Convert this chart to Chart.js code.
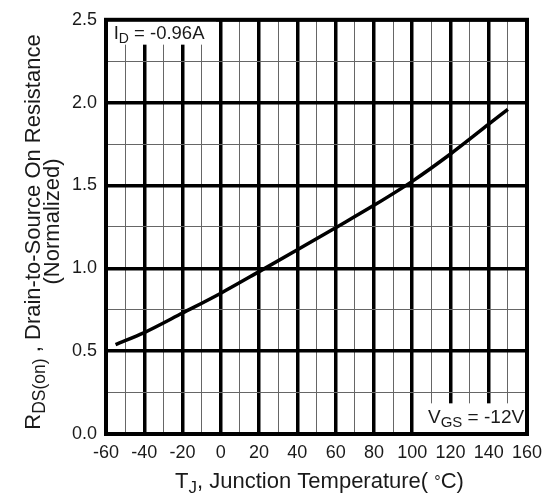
<!DOCTYPE html>
<html>
<head>
<meta charset="utf-8">
<script src="https://cdn.jsdelivr.net/npm/chart.js@4.4.1/dist/chart.umd.min.js"></script>
<style>
html,body{margin:0;padding:0;background:#fff;}
#wrap{width:553px;height:493px;position:relative;}
</style>
</head>
<body>
<div id="wrap"><canvas id="c" width="553" height="493"></canvas></div>
<script>
// ---- data ----
const temperatures = [-55, -40, -20, 0, 20, 40, 60, 80, 100, 120, 140, 150];
const resistance   = [0.54, 0.612, 0.73, 0.85, 0.98, 1.112, 1.245, 1.38, 1.525, 1.69, 1.87, 1.96];
const xTickLabels  = [-60, -40, -20, 0, 20, 40, 60, 80, 100, 120, 140, 160];
const yTickLabels  = ['0.0', '0.5', '1.0', '1.5', '2.0', '2.5'];
const idLabel  = [['I', 'main'], ['D', 'sub'], [' = -0.96A', 'main']];
const vgsLabel = [['V', 'main'], ['GS', 'sub'], [' = -12V', 'main']];

const FONT = '"Liberation Sans", Arial, Helvetica, sans-serif';
const TXT = '#1a1a1a';

function drawRich(ctx, segs, x, y, align, sizes) {
  let total = 0;
  const widths = segs.map(([t, k]) => {
    ctx.font = sizes[k] + 'px ' + FONT;
    const w = ctx.measureText(t).width; total += w; return w;
  });
  let cx = align === 'center' ? x - total / 2 : (align === 'right' ? x - total : x);
  ctx.textAlign = 'left';
  ctx.textBaseline = 'alphabetic';
  ctx.fillStyle = TXT;
  segs.forEach(([t, k], i) => {
    ctx.font = sizes[k] + 'px ' + FONT;
    const dy = k === 'sub' ? sizes.subDy : (k === 'sup' ? sizes.supDy : 0);
    ctx.fillText(t, cx, y + dy);
    cx += widths[i];
  });
}

const decorations = {
  id: 'decorations',
  beforeDatasetsDraw(chart) {
    const ctx = chart.ctx, xs = chart.scales.x, ys = chart.scales.y, a = chart.chartArea;
    ctx.save();
    ctx.fillStyle = '#fff';
    let x0 = xs.getPixelForValue(-60), x1 = xs.getPixelForValue(-2.5);
    let y0 = ys.getPixelForValue(2.5), y1 = ys.getPixelForValue(2.35);
    ctx.fillRect(x0, y0, x1 - x0, y1 - y0);
    x0 = xs.getPixelForValue(101.5); x1 = xs.getPixelForValue(160);
    y0 = ys.getPixelForValue(0.185); y1 = ys.getPixelForValue(0);
    ctx.fillRect(x0, y0, x1 - x0, y1 - y0);
    ctx.strokeStyle = '#000';
    ctx.lineWidth = 4;
    ctx.strokeRect(a.left, a.top, a.right - a.left, a.bottom - a.top);
    drawRich(ctx, idLabel, xs.getPixelForValue(-56), ys.getPixelForValue(2.385), 'left',
      {main: 18.5, sub: 14, subDy: 4, supDy: -6});
    drawRich(ctx, vgsLabel, xs.getPixelForValue(158.5), ys.getPixelForValue(0.065), 'right',
      {main: 19, sub: 15, subDy: 4, supDy: -6});
    ctx.restore();
  },
  afterDraw(chart) {
    const ctx = chart.ctx, a = chart.chartArea;
    ctx.save();
    drawRich(ctx, [['T', 'main'], ['J', 'sub'], [', Junction Temperature( ', 'main'], ['°', 'sup'], ['C)', 'main']],
      (a.left + a.right) / 2 + 3, 488, 'center', {main: 22, sub: 17, subDy: 5, sup: 16, supDy: -1});
    ctx.translate(40, 232);
    ctx.rotate(-Math.PI / 2);
    drawRich(ctx, [['R', 'main'], ['DS(on)', 'sub'], [' , Drain-to-Source On Resistance', 'main']],
      0, 0, 'center', {main: 22, sub: 17.5, subDy: 5, supDy: -6});
    ctx.restore();
    ctx.save();
    ctx.translate(59, 221.5);
    ctx.rotate(-Math.PI / 2);
    drawRich(ctx, [['(Normalized)', 'main']], 0, 0, 'center', {main: 22, sub: 17, subDy: 5, supDy: -6});
    ctx.restore();
  }
};

const points = temperatures.map((t, i) => ({x: t, y: resistance[i]}));

new Chart(document.getElementById('c'), {
  type: 'scatter',
  data: {
    datasets: [{
      data: points,
      showLine: true,
      borderColor: '#000',
      borderWidth: 3.5,
      pointRadius: 0,
      cubicInterpolationMode: 'monotone',
      fill: false
    }]
  },
  options: {
    responsive: false,
    animation: false,
    events: [],
    layout: {padding: {top: 15, right: 26, left: 0, bottom: 0}},
    plugins: {legend: {display: false}, tooltip: {enabled: false}},
    scales: {
      x: {
        type: 'linear',
        min: -60, max: 160,
        afterFit(s) { s.height = 59; },
        border: {display: false},
        grid: {
          drawTicks: false,
          color: c => (Math.round(c.tick.value) % 20 === 0 ? '#000' : '#666'),
          lineWidth: c => (Math.round(c.tick.value) % 20 === 0 ? 3.5 : 1)
        },
        ticks: {
          stepSize: 10,
          autoSkip: false,
          maxRotation: 0,
          padding: 8,
          color: TXT,
          font: {family: FONT, size: 18},
          callback: v => (xTickLabels.includes(v) ? String(v) : '')
        }
      },
      y: {
        type: 'linear',
        min: 0, max: 2.5,
        afterFit(s) { s.width = 106; },
        border: {display: false},
        grid: {
          drawTicks: false,
          color: c => (Math.abs(c.tick.value * 2 - Math.round(c.tick.value * 2)) < 1e-6 ? '#000' : '#666'),
          lineWidth: c => (Math.abs(c.tick.value * 2 - Math.round(c.tick.value * 2)) < 1e-6 ? 3.5 : 1)
        },
        ticks: {
          stepSize: 0.25,
          autoSkip: false,
          padding: 9,
          color: TXT,
          font: {family: FONT, size: 18},
          callback: v => {
            const s = Number(v).toFixed(1);
            return (Math.abs(v * 2 - Math.round(v * 2)) < 1e-6 && yTickLabels.includes(s)) ? s : '';
          }
        }
      }
    }
  },
  plugins: [decorations]
});
</script>
</body>
</html>
